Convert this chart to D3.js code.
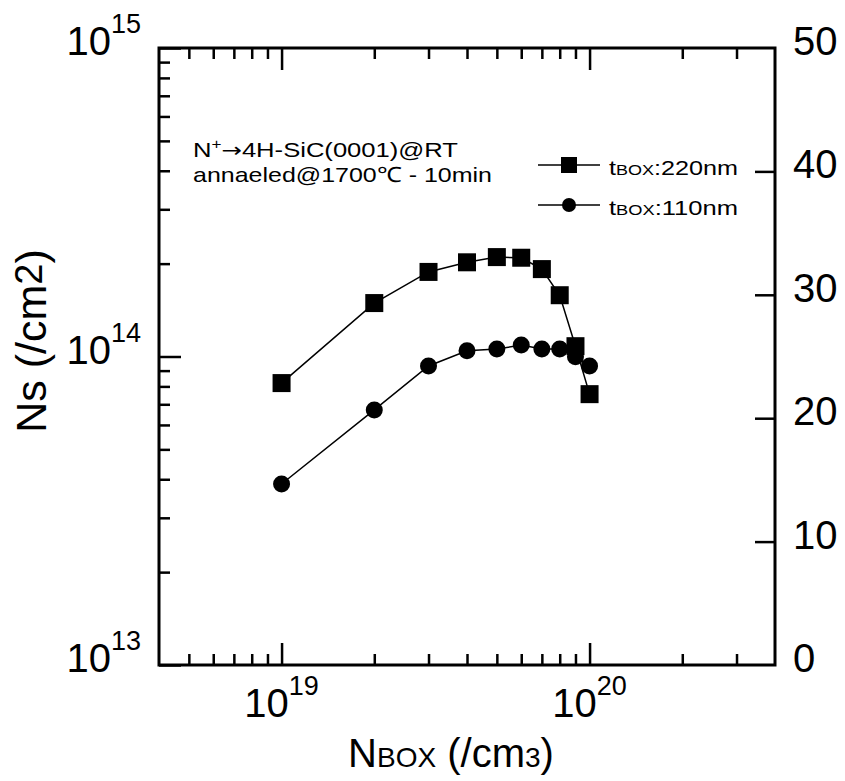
<!DOCTYPE html>
<html>
<head>
<meta charset="utf-8">
<script src="https://cdn.jsdelivr.net/npm/d3@7"></script>
<style>
  body { margin: 0; background: #fff; }
  text { font-family: "Liberation Sans", Arial, sans-serif; fill: #000; }
</style>
</head>
<body>
<svg id="chart" width="845" height="781"></svg>
<script>
// data
var nBox     = [1e19, 2e19, 3e19, 4e19, 5e19, 6e19, 7e19, 8e19, 9e19, 1e20];
var ns220    = [8.2e13, 1.49e14, 1.88e14, 2.02e14, 2.10e14, 2.09e14, 1.92e14, 1.58e14, 1.08e14, 7.55e13];
var ns110    = [3.86e13, 6.71e13, 9.32e13, 1.044e14, 1.057e14, 1.089e14, 1.057e14, 1.057e14, 9.99e13, 9.32e13];
var xMajor   = [1e19, 1e20];
var yMajor   = [1e13, 1e14, 1e15];
var xLabels  = [{b: "10", e: "19", v: 1e19}, {b: "10", e: "20", v: 1e20}];
var yLabels  = [{b: "10", e: "13", v: 1e13}, {b: "10", e: "14", v: 1e14}, {b: "10", e: "15", v: 1e15}];
var rTicks   = [10, 20, 30, 40];
var rLabels  = [0, 10, 20, 30, 40, 50];

var	svg	= d3.select("#chart"),
	L = 159, R = 775, T = 48, B = 665;

var	x	= d3.scaleLog().domain([4e18, 4e20]).range([L, R]),
	y	= d3.scaleLog().domain([1e13, 1e15]).range([B, T]),
	yR	= d3.scaleLinear().domain([0, 50]).range([B, T]);

var	xMinor	= x.ticks().filter(function(v) { return xMajor.indexOf(v) < 0 && v > 4e18 && v < 4e20; }),
	yMinor	= y.ticks().filter(function(v) { return yMajor.indexOf(v) < 0; });

function styleAxis(g) {
	g.select(".domain").remove();
	g.selectAll(".tick line").attr("stroke", "#000").style("stroke-width", "2.5px");
	g.selectAll(".tick text").remove();
}

// ticks, all pointing inside the frame
svg.append("g").attr("transform", "translate(0," + B + ")")
	.call(d3.axisBottom(x).tickValues(xMinor).tickSize(-11)).call(styleAxis);
svg.append("g").attr("transform", "translate(0," + B + ")")
	.call(d3.axisBottom(x).tickValues(xMajor).tickSize(-22)).call(styleAxis);
svg.append("g").attr("transform", "translate(0," + T + ")")
	.call(d3.axisTop(x).tickValues(xMinor).tickSize(-11)).call(styleAxis);
svg.append("g").attr("transform", "translate(0," + T + ")")
	.call(d3.axisTop(x).tickValues(xMajor).tickSize(-22)).call(styleAxis);
svg.append("g").attr("transform", "translate(" + L + ",0)")
	.call(d3.axisLeft(y).tickValues(yMinor).tickSize(-11)).call(styleAxis);
svg.append("g").attr("transform", "translate(" + L + ",0)")
	.call(d3.axisLeft(y).tickValues(yMajor).tickSize(-22)).call(styleAxis);
svg.append("g").attr("transform", "translate(" + R + ",0)")
	.call(d3.axisRight(yR).tickValues(rTicks).tickSize(-20)).call(styleAxis);

// frame
svg.append("rect").attr("x", L).attr("y", T).attr("width", R - L).attr("height", B - T)
	.attr("fill", "none").attr("stroke", "#000").style("stroke-width", "3px");

// tick labels
function powLabel(sel) {
	sel.append("tspan").style("font-size", "40px").text(function(d) { return d.b; });
	sel.append("tspan").style("font-size", "27px").attr("dy", -22).text(function(d) { return d.e; });
}
svg.selectAll("text.xl").data(xLabels).enter().append("text").attr("class", "xl")
	.attr("x", function(d) { return x(d.v); }).attr("y", B + 52)
	.attr("text-anchor", "middle").call(powLabel);
svg.selectAll("text.yl").data(yLabels).enter().append("text").attr("class", "yl")
	.attr("x", 141).attr("y", function(d) { return y(d.v) + 7; })
	.attr("text-anchor", "end").call(powLabel);
svg.selectAll("text.rl").data(rLabels).enter().append("text").attr("class", "rl")
	.attr("x", 793).attr("y", function(d) { return yR(d) + 7; })
	.style("font-size", "40px").text(function(d) { return d; });

// axis titles
var xt = svg.append("text").attr("x", 451).attr("y", 767).attr("text-anchor", "middle").style("font-size", "40px");
xt.append("tspan").text("N");
xt.append("tspan").style("font-size", "28px").text("BOX");
xt.append("tspan").text(" (/cm");
xt.append("tspan").style("font-size", "28px").text("3");
xt.append("tspan").text(")");

var yt = svg.append("text").attr("transform", "translate(46,341) rotate(-90)")
	.attr("text-anchor", "middle").style("font-size", "43px");
yt.append("tspan").text("Ns (/cm");
yt.append("tspan").style("font-size", "38px").attr("dy", -4).text("2");
yt.append("tspan").attr("dy", 4).text(")");

// data
var line = d3.line().x(function(d) { return x(d[0]); }).y(function(d) { return y(d[1]); });
var s110 = d3.zip(nBox, ns110), s220 = d3.zip(nBox, ns220);

svg.append("path").datum(s110).attr("d", line).attr("fill", "none").attr("stroke", "#000").style("stroke-width", "1.5px");
svg.append("path").datum(s220).attr("d", line).attr("fill", "none").attr("stroke", "#000").style("stroke-width", "1.5px");
svg.selectAll("circle.p110").data(s110).enter().append("circle").attr("class", "p110")
	.attr("cx", function(d) { return x(d[0]); }).attr("cy", function(d) { return y(d[1]); })
	.attr("r", 8.5).attr("fill", "#000");
svg.selectAll("rect.p220").data(s220).enter().append("rect").attr("class", "p220")
	.attr("x", function(d) { return x(d[0]) - 9; }).attr("y", function(d) { return y(d[1]) - 9; })
	.attr("width", 18).attr("height", 18).attr("fill", "#000");

// annotation
var a1 = svg.append("text").attr("x", 193).attr("y", 157).style("font-size", "21px")
	.attr("textLength", 265).attr("lengthAdjust", "spacingAndGlyphs");
a1.append("tspan").text("N");
a1.append("tspan").style("font-size", "14px").attr("dy", -8).text("+");
a1.append("tspan").attr("dy", 8).style("font-family", "'DejaVu Sans'").style("font-size", "20px").text("→");
a1.append("tspan").text("4H-SiC(0001)@RT");
svg.append("text").attr("x", 193).attr("y", 182).style("font-size", "21px")
	.attr("textLength", 299).attr("lengthAdjust", "spacingAndGlyphs")
	.text("annaeled@1700℃ - 10min");

// legend
var legend = [{name: "220nm", y: 165, shape: "square"}, {name: "110nm", y: 205, shape: "circle"}];
var lg = svg.selectAll("g.legend").data(legend).enter().append("g").attr("class", "legend")
	.attr("transform", function(d) { return "translate(0," + d.y + ")"; });
lg.append("line").attr("x1", 538).attr("x2", 600).attr("stroke", "#000").style("stroke-width", "1.5px");
lg.filter(function(d) { return d.shape == "square"; }).append("rect")
	.attr("x", 561).attr("y", -8).attr("width", 16).attr("height", 16).attr("fill", "#000");
lg.filter(function(d) { return d.shape == "circle"; }).append("circle")
	.attr("cx", 569).attr("r", 7).attr("fill", "#000");
var lt = lg.append("text").attr("x", 609).attr("y", 10).style("font-size", "21px")
	.attr("textLength", 129).attr("lengthAdjust", "spacingAndGlyphs");
lt.append("tspan").text("t");
lt.append("tspan").style("font-size", "15px").text("BOX");
lt.append("tspan").text(function(d) { return ":" + d.name; });
</script>
</body>
</html>
